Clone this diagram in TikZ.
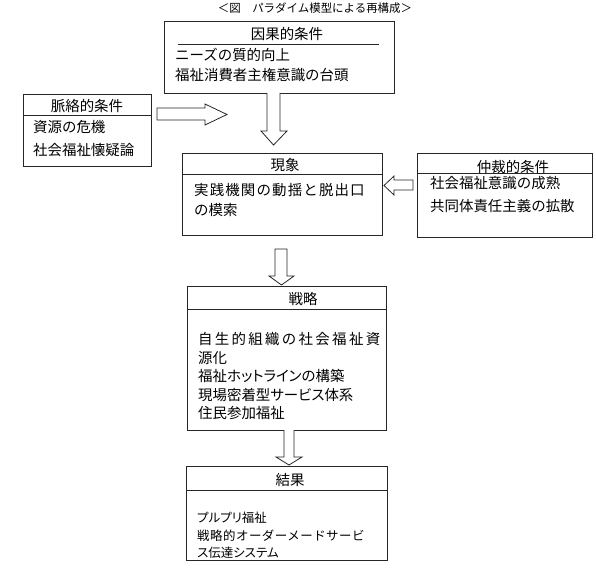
\documentclass[tikz,border=0pt]{standalone}
\usepackage{fontspec}
\setmainfont{Noto Sans CJK JP}
\newfontfamily\jpp[RawFeature=+palt]{Noto Sans CJK JP}
\newfontfamily\jpa[LetterSpace=8]{Noto Sans CJK JP}
\newfontfamily\jpb[LetterSpace=16]{Noto Sans CJK JP}
\newfontfamily\jpc[LetterSpace=4]{Noto Sans CJK JP}
\begin{document}
\begin{tikzpicture}[x=1bp,y=-1bp,
  box/.style={draw=black!85,line width=0.8bp,inner sep=0pt,anchor=north west},
  sep/.style={draw=black!85,line width=0.8bp},
  ttl/.style={inner sep=0pt,anchor=center,font=\fontsize{14.5}{17}\selectfont},
  txt/.style={inner sep=0pt,anchor=west,font=\fontsize{14.5}{17}\selectfont},
  stxt/.style={inner sep=0pt,anchor=west,font=\fontsize{12.5}{14}\selectfont},
  barrow/.style={draw=black!85,line width=0.8bp,fill=white,line join=miter}]
\useasboundingbox (0,0) rectangle (596,578);
% title
\node[inner sep=0pt,font=\fontsize{11.5}{13}\selectfont] (title) at (315,8) {＜図　パラダイム模型による再構成＞};
% cause box
\node[box,minimum width=230bp,minimum height=72bp] (cause) at (164,21) {};
\draw[sep] (178,44) -- (379,44);
\node[ttl] (causet) at (287,34) {因果的条件};
\node[txt] (cause1) at (175,55) {ニーズの質的向上};
\node[txt] (cause2) at (175,75) {福祉消費者主権意識の台頭};
% context box
\node[box,minimum width=128bp,minimum height=72bp] (ctx) at (23,94) {};
\draw[sep] (ctx.west |- 0,115) -- (ctx.east |- 0,115);
\node[ttl] (ctxt) at (87,106) {脈絡的条件};
\node[txt] (ctx1) at (33,127) {資源の危機};
\node[txt] (ctx2) at (33,150) {社会福祉懐疑論};
% phenomenon box
\node[box,minimum width=200bp,minimum height=82bp] (phen) at (182,153) {};
\draw[sep] (phen.west |- 0,174) -- (phen.east |- 0,174);
\node[ttl] (phent) at (285,165) {現象};
\node[txt] (phen1) at (194,190) {\jpa 実践機関の動揺と脱出口};
\node[txt] (phen2) at (194,210) {の模索};
% mediating box
\node[box,minimum width=175bp,minimum height=84bp] (med) at (417,153) {};
\draw[sep] (med.west |- 0,173) -- (med.east |- 0,173);
\node[ttl] (medt) at (513,167) {仲裁的条件};
\node[txt] (med1) at (430,183) {社会福祉意識の成熟};
\node[txt] (med2) at (430,206) {共同体責任主義の拡散};
% strategy box
\node[box,minimum width=199bp,minimum height=144bp] (strat) at (187,286) {};
\draw[sep] (strat.west |- 0,309) -- (strat.east |- 0,309);
\node[ttl] (stratt) at (303,299) {戦略};
\node[txt] (strat1) at (198,339) {\jpb 自生的組織の社会福祉資};
\node[txt] (strat2) at (198,358) {源化};
\node[txt] (strat3) at (198,376) {\jpp 福祉ホットラインの構築};
\node[txt] (strat4) at (198,395) {\jpp 現場密着型サービス体系};
\node[txt] (strat5) at (198,413) {住民参加福祉};
% result box
\node[box,minimum width=201bp,minimum height=94bp] (res) at (186,466) {};
\draw[sep] (res.west |- 0,490) -- (res.east |- 0,490);
\node[ttl] (rest) at (290,480) {結果};
\node[stxt] (res1) at (197,518) {\jpp プルプリ福祉};
\node[stxt] (res2) at (197,536) {\jpc 戦略的オーダーメードサービ};
\node[stxt] (res3) at (197,553) {\jpp ス伝達システム};
% block arrows
\draw[barrow] (267,93) -- (267,131) -- (261,131) -- (273.5,145) -- (287,131) -- (280,131) -- (280,93);
\draw[barrow] (157,108) -- (205,108) -- (205,104) -- (227,114.5) -- (205,125) -- (205,120) -- (157,120) -- cycle;
\draw[barrow] (413,180) -- (394,180) -- (394,176) -- (384,185.5) -- (394,195) -- (394,190) -- (413,190) -- cycle;
\draw[barrow] (275,249) -- (275,276) -- (269,276) -- (281.5,285) -- (294,276) -- (287,276) -- (287,249) -- cycle;
\draw[barrow] (284,430) -- (284,457) -- (276,457) -- (289,465) -- (302,457) -- (294,457) -- (294,430);
\end{tikzpicture}
\end{document}
